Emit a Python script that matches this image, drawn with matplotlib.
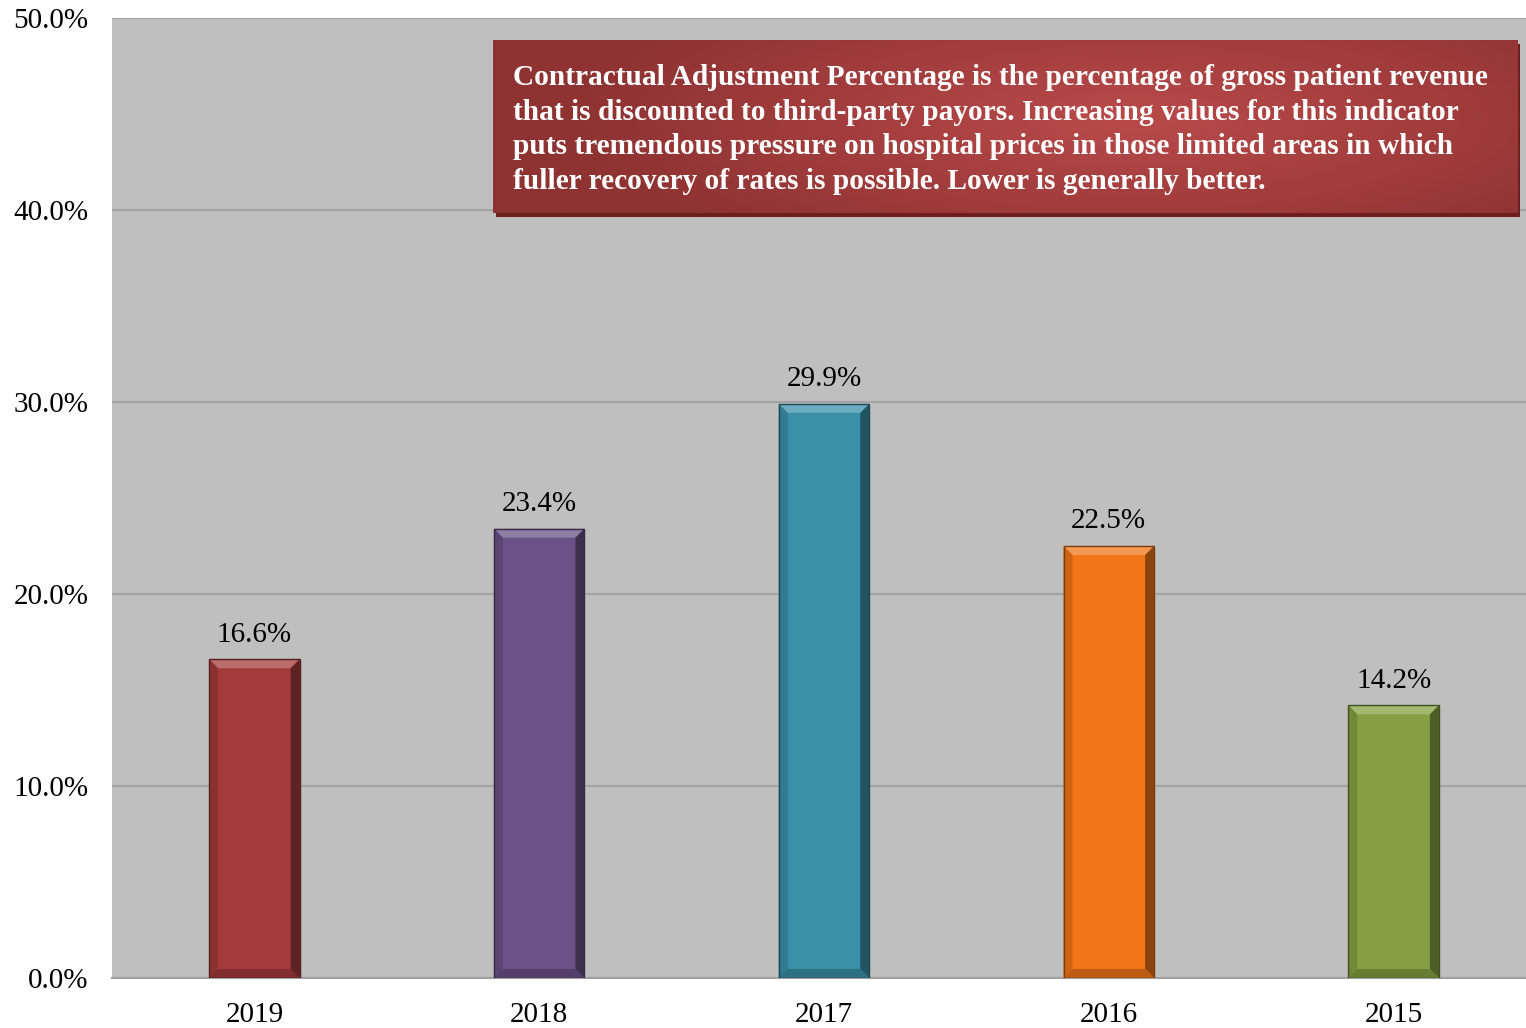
import numpy as np
import matplotlib
matplotlib.use("Agg")
import matplotlib.pyplot as plt
from matplotlib.patches import Polygon, Rectangle
from matplotlib.colors import to_rgb

years = ["2019", "2018", "2017", "2016", "2015"]
values = [16.6, 23.4, 29.9, 22.5, 14.2]
labels = ["16.6%", "23.4%", "29.9%", "22.5%", "14.2%"]
colors = ["#A33B3A", "#6A5186", "#3A90A8", "#F27518", "#84A042"]
yticks = [0, 10, 20, 30, 40, 50]
ytick_labels = ["0.0%", "10.0%", "20.0%", "30.0%", "40.0%", "50.0%"]
note = ("Contractual Adjustment Percentage is the percentage of gross patient revenue\n"
        "that is discounted to third-party payors. Increasing values for this indicator\n"
        "puts tremendous pressure on hospital prices in those limited areas in which\n"
        "fuller recovery of rates is possible. Lower is generally better.")

plt.rcParams['font.family'] = ['Liberation Serif', 'DejaVu Serif']

W, H = 1526, 1028
fig = plt.figure(figsize=(W/100, H/100), dpi=100)
fig.patch.set_facecolor('white')
L, R, B, T = 112, 1536, 978, 18
ax = fig.add_axes([L/W, (H-B)/H, (R-L)/W, (B-T)/H])
ax.set_facecolor('#BFBFBF')

for s in ['left', 'right', 'top']:
    ax.spines[s].set_visible(False)
ax.spines['bottom'].set_color('#A0A0A0')
ax.spines['bottom'].set_linewidth(1.5)

ax.set_yticks(yticks)
ax.set_yticklabels(ytick_labels)
ax.yaxis.grid(True, color='#A3A3A3', linewidth=1.5)
ax.set_axisbelow(True)
ax.tick_params(axis='both', length=0, labelsize=21, colors='black')
ax.tick_params(axis='y', pad=17)
ax.tick_params(axis='x', pad=17.5)
ax.set_xticks(range(len(years)))
ax.set_xticklabels(years)

def mix(c, t, f):
    c = np.array(to_rgb(c)); t = np.array(to_rgb(t))
    return tuple(c*(1-f) + t*f)

bw = 0.318
bars = ax.bar(range(len(years)), values, width=bw, color=colors, zorder=2, linewidth=0)
dx = 9 * (5/(R-L))   # pixels -> data x
dy = 9 * (50/(B-T))  # pixels -> data y
for i, (b, c) in enumerate(zip(bars, colors)):
    x0, x1, h = b.get_x(), b.get_x()+b.get_width(), b.get_height()
    ax.add_patch(Polygon([(x0, h), (x1, h), (x1-dx, h-dy), (x0+dx, h-dy)],
                         closed=True, facecolor=mix(c, 'white', 0.25), lw=0, zorder=3))
    ax.add_patch(Polygon([(x0, 0), (x0, h), (x0+dx, h-dy), (x0+dx, dy)],
                         closed=True, facecolor=mix(c, 'black', 0.15), lw=0, zorder=3))
    ax.add_patch(Polygon([(x1, 0), (x1, h), (x1-dx, h-dy), (x1-dx, dy)],
                         closed=True, facecolor=mix(c, 'black', 0.42), lw=0, zorder=3))
    ax.add_patch(Polygon([(x0, 0), (x1, 0), (x1-dx, dy), (x0+dx, dy)],
                         closed=True, facecolor=mix(c, 'black', 0.22), lw=0, zorder=3))
    ax.add_patch(Rectangle((x0, 0), x1-x0, h, fill=False,
                           edgecolor=mix(c, 'black', 0.5), lw=1.0, zorder=4))
    ax.text(i, h + 0.6, labels[i], ha='center', va='bottom', fontsize=21, zorder=5)

# annotation box with gradient
bx0 = (493-L)/(R-L); bx1 = (1517-L)/(R-L)
by1 = (B-40)/(B-T); by0 = (B-213)/(B-T)
sx = 3/(R-L); sy = 4/(B-T)
ax.add_patch(Rectangle((bx0+sx, by0-sy), bx1-bx0, by1-by0, transform=ax.transAxes,
                       facecolor='#6B1F1F', lw=0, zorder=6))
ny, nx = 60, 300
yy, xx = np.mgrid[0:ny, 0:nx]
cxp, cyp = 0.62*nx, 0.45*ny
d = np.sqrt(((xx-cxp)/(0.55*nx))**2 + ((yy-cyp)/(0.9*ny))**2)
d = np.clip(d, 0, 1)
inner = np.array(to_rgb('#BA4A4A')); outer = np.array(to_rgb('#8E3232'))
img = inner[None, None, :]*(1-d[..., None]) + outer[None, None, :]*d[..., None]
ax.imshow(img, extent=[bx0, bx1, by0, by1], transform=ax.transAxes, aspect='auto',
          zorder=7, interpolation='bilinear')
ax.set_xlim(-0.5, len(years)-0.5)
ax.set_ylim(0, 50)
ax.text((513-L)/(R-L), (B-129.5)/(B-T), note, transform=ax.transAxes, ha='left', va='center',
        color='white', fontsize=21.2, fontweight='bold', linespacing=1.35, zorder=8)

fig.savefig('out.png', dpi=100, facecolor='white')
